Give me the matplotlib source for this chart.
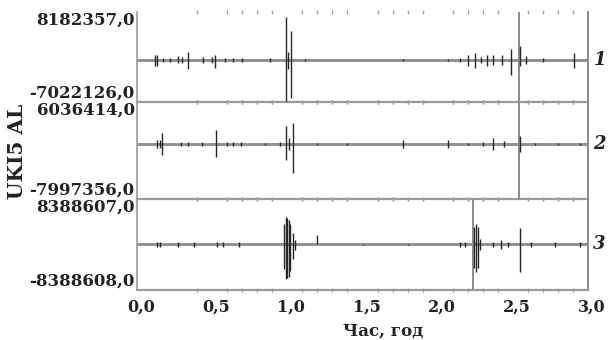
import matplotlib.pyplot as plt
from matplotlib.transforms import ScaledTranslation
import numpy as np

# channel limits (counts)
y_top = [8182357, 6036414, 8388607]
y_bot = [-7022126, -7997356, -8388608]
trace_names = ["1", "2", "3"]

# spikes: time (hours), max and min (counts)
t1 = [0.12, 0.13, 0.17, 0.22, 0.27, 0.30, 0.34, 0.44, 0.50, 0.52, 0.585, 0.64, 0.70, 0.885,
      0.99, 1.005, 1.025, 1.12, 1.77, 2.07, 2.15, 2.20, 2.25, 2.29, 2.33, 2.37, 2.43, 2.49,
      2.55, 2.59, 2.70, 2.91]
hi1 = [8.5e5, 1.0e6, 3.4e5, 3.4e5, 6.8e5, 5.1e5, 1.5e6, 5.1e5, 5.1e5, 1.0e6, 3.4e5, 3.4e5, 3.4e5, 3.4e5,
       7.3e6, 1.5e6, 4.9e6, 1.7e5, 1.7e5, 1.7e5, 3.4e5, 8.5e5, 1.2e6, 5.1e5, 1.0e6, 8.5e5, 8.5e5, 2.0e6,
       2.4e6, 6.8e5, 3.4e5, 1.2e6]
lo1 = [-1.0e6, -1.0e6, -3.4e5, -3.4e5, -5.1e5, -5.1e5, -1.5e6, -5.1e5, -5.1e5, -1.35e6, -3.4e5, -3.4e5, -3.4e5, -3.4e5,
       -6.8e6, -1.5e6, -6.4e6, -1.7e5, -1.7e5, -1.7e5, -3.4e5, -1.0e6, -1.2e6, -5.1e5, -1.0e6, -8.5e5, -8.5e5, -2.4e6,
       -1.0e6, -6.8e5, -3.4e5, -1.2e6]

t2 = [0.13, 0.15, 0.165, 0.29, 0.34, 0.43, 0.525, 0.60, 0.64, 0.69, 0.85, 0.95, 0.99, 1.01,
      1.035, 1.2, 1.4, 1.77, 2.07, 2.2, 2.3, 2.37, 2.44, 2.55, 2.65, 2.8, 2.95]
hi2 = [5.8e5, 5.8e5, 1.6e6, 2.9e5, 2.9e5, 2.9e5, 2.0e6, 2.9e5, 2.9e5, 2.9e5, 1.45e5, 2.9e5, 2.5e6, 8.7e5,
       3.0e6, 1.45e5, 1.45e5, 5.8e5, 5.8e5, 1.45e5, 2.9e5, 8.7e5, 4.35e5, 1.16e6, 1.45e5, 1.45e5, 1.45e5]
lo2 = [-5.8e5, -5.8e5, -1.6e6, -2.9e5, -2.9e5, -2.9e5, -1.9e6, -2.9e5, -2.9e5, -2.9e5, -1.45e5, -2.9e5, -2.3e6, -8.7e5,
       -4.2e6, -1.45e5, -1.45e5, -5.8e5, -5.8e5, -1.45e5, -2.9e5, -8.7e5, -4.35e5, -1.16e6, -1.45e5, -1.45e5, -1.45e5]

t3 = [0.13, 0.15, 0.27, 0.38, 0.53, 0.57, 0.68, 0.975, 0.99, 1.00, 1.01, 1.02, 1.035, 1.05,
      1.2, 1.5, 1.8, 2.15, 2.18, 2.245, 2.255, 2.265, 2.28, 2.37, 2.42, 2.47, 2.545, 2.62, 2.78, 2.95]
hi3 = [5.5e5, 5.5e5, 3.7e5, 3.7e5, 5.5e5, 3.7e5, 3.7e5, 3.7e6, 5.0e6, 4.8e6, 4.6e6, 3.7e6, 2.2e6, 9.2e5,
       1.84e6, 1.8e5, 1.8e5, 5.5e5, 5.5e5, 3.3e6, 3.7e6, 3.3e6, 1.1e6, 5.5e5, 7.4e5, 5.5e5, 3.1e6, 3.7e5, 3.7e5, 3.7e5]
lo3 = [-5.5e5, -5.5e5, -3.7e5, -3.7e5, -5.5e5, -3.7e5, -3.7e5, -4.6e6, -6.4e6, -6.25e6, -5.9e6, -4.8e6, -2.76e6, -1.1e6,
       0.0, -1.8e5, -1.8e5, -5.5e5, -5.5e5, -4.4e6, -5.15e6, -4.4e6, -1.1e6, -5.5e5, -7.4e5, -5.5e5, -5.15e6, -3.7e5, -3.7e5, -3.7e5]

spikes = [(t1, hi1, lo1), (t2, hi2, lo2), (t3, hi3, lo3)]
marker_time = [2.54, 2.54, 2.235]

x_ticks = [0.0, 0.5, 1.0, 1.5, 2.0, 2.5, 3.0]
x_ticklabels = ["0,0", "0,5", "1,0", "1,5", "2,0", "2,5", "3,0"]

W, H = 608, 340
fig = plt.figure(figsize=(W / 100, H / 100), dpi=100)
serif = "DejaVu Serif"

# panel rows in pixels (top, bottom)
rows = [(12, 102), (102, 199), (199, 290)]
x0, x1 = 137, 588
gray = "#9a9a9a"

axes = []
for i, (top, bot) in enumerate(rows):
    ax = fig.add_axes([x0 / W, 1 - bot / H, (x1 - x0) / W, (bot - top) / H])
    axes.append(ax)
    ax.set_xlim(0, 3.0)
    ax.set_ylim(y_bot[i], y_top[i])

    t, hi, lo = spikes[i]
    ax.axhline(0, color="#939393", lw=2.2, zorder=1)
    ax.vlines(t, lo, hi, color="#262626", lw=1.0, zorder=3)
    ax.axvline(marker_time[i], color="#8a8a8a", lw=1.4, zorder=2)

    ax.spines["top"].set_visible(False)
    ax.spines["bottom"].set_color(gray)
    ax.spines["bottom"].set_linewidth(1.6)
    ax.spines["left"].set_color(gray)
    ax.spines["left"].set_linewidth(1.2)
    ax.spines["right"].set_color("#8a8a8a")
    ax.spines["right"].set_linewidth(1.4)

    ax.set_yticks([])
    ax.set_xticks(x_ticks)
    ax.set_xticks(np.arange(4, 31) / 10, minor=True)
    ax.tick_params(axis="x", which="both", top=True, bottom=True, direction="inout",
                   length=3, width=1, color="#a0a0a0")
    ax.tick_params(axis="x", which="major", length=0, pad=6)

    if i < 2:
        ax.set_xticklabels([])
    else:
        ax.set_xticklabels(x_ticklabels, fontfamily=serif, fontweight="bold", fontsize=11.5, color="#222")
        shift = ScaledTranslation(4 / 100, 0, fig.dpi_scale_trans)
        for lab in ax.get_xticklabels():
            lab.set_transform(lab.get_transform() + shift)

    ax.patch.set_alpha(0)
    yt = ax.get_yaxis_transform()
    ax.text(-0.005, y_top[i], f"{y_top[i]:.1f}".replace(".", ","), transform=yt, ha="right", va="top",
            fontfamily=serif, fontweight="bold", fontsize=12, color="#222")
    ax.text(-0.005, y_bot[i], f"{y_bot[i]:.1f}".replace(".", ","), transform=yt, ha="right", va="bottom",
            fontfamily=serif, fontweight="bold", fontsize=12, color="#222")
    ax.text(1.012, 0, trace_names[i], transform=yt, ha="left", va="center",
            fontfamily=serif, fontweight="bold", fontstyle="italic", fontsize=13, color="#222")

fig.text(383 / W, 1 - 331 / H, "Час, год", ha="center", va="center",
         fontfamily=serif, fontweight="bold", fontsize=12, color="#222")
fig.text(17 / W, 1 - 151 / H, "UKI5 AL", ha="center", va="center", rotation=90,
         fontfamily=serif, fontweight="bold", fontsize=14.5, color="#222")

fig.savefig("out.png", dpi=100)
